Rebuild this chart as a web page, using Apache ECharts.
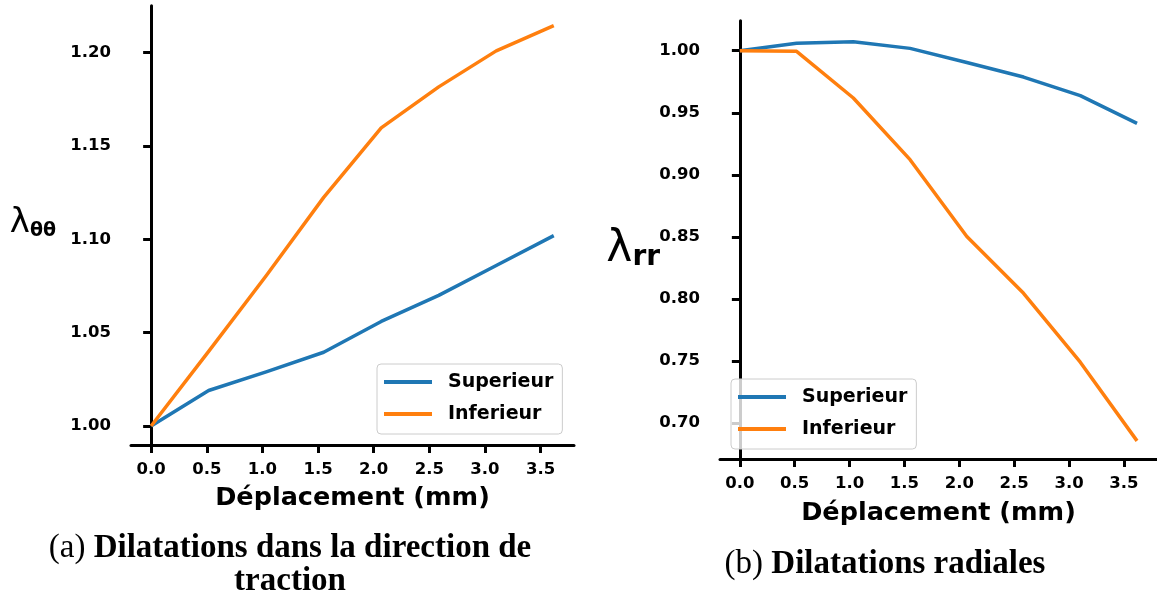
<!DOCTYPE html>
<html>
<head>
<meta charset="utf-8">
<script src="https://cdn.jsdelivr.net/npm/echarts@6/dist/echarts.min.js"></script>
<style>
  html, body { margin: 0; padding: 0; background: #ffffff; }
  #chart { width: 1157px; height: 596px; }
</style>
</head>
<body>
<div id="chart"></div>
<script>
// ---- data ----
const displacement = [0, 0.517, 1.034, 1.551, 2.068, 2.585, 3.102, 3.619];
const superieurTheta = [1.000, 1.019, 1.029, 1.0395, 1.056, 1.070, 1.086, 1.102];
const inferieurTheta = [1.000, 1.040, 1.0805, 1.1225, 1.1597, 1.1817, 1.201, 1.2145];
const superieurRadial = [1.000, 1.006, 1.0073, 1.0019, 0.9905, 0.9788, 0.9638, 0.9415];
const inferieurRadial = [1.000, 0.9995, 0.9619, 0.9122, 0.8503, 0.8045, 0.7490, 0.6856];
const xTickValues = [0.0, 0.5, 1.0, 1.5, 2.0, 2.5, 3.0, 3.5];
const yTickValuesTheta = [1.00, 1.05, 1.10, 1.15, 1.20];
const yTickValuesRadial = [0.70, 0.75, 0.80, 0.85, 0.90, 0.95, 1.00];
const seriesNames = ['Superieur', 'Inferieur'];
const captionA = ['(a) ', 'Dilatations dans la direction de', 'traction'];
const captionB = ['(b) ', 'Dilatations radiales'];
const xAxisTitle = 'Déplacement (mm)';

const BLUE = '#1f77b4', ORANGE = '#ff7f0e';
const SANS = '"DejaVu Sans", sans-serif';
const SERIF = '"Liberation Serif", "DejaVu Serif", serif';

const pairs = (xs, ys) => xs.map((x, i) => [x, ys[i]]);

const chart = echarts.init(document.getElementById('chart'), null, { renderer: 'canvas', width: 1157, height: 596 });

function xAxisDef(gridIndex, gap) {
  return {
    type: 'value', gridIndex,
    min: -0.181, max: 3.801,
    name: xAxisTitle, nameLocation: 'middle', nameGap: gap, nameMoveOverlap: false,
    nameTextStyle: { fontFamily: SANS, fontWeight: 'bold', fontSize: 25.5, color: '#000' },
    axisLine: { show: true, lineStyle: { color: '#000', width: 3 } },
    axisTick: { show: true, length: 8, lineStyle: { color: '#000', width: 3 }, customValues: xTickValues },
    axisLabel: { show: true, margin: 16, fontFamily: SANS, fontWeight: 'bold', fontSize: 16.5, color: '#000',
      customValues: xTickValues, formatter: v => v.toFixed(1) },
    splitLine: { show: false }
  };
}
function yAxisDef(gridIndex, min, max, ticks, name, rich, gap, pad) {
  return {
    type: 'value', gridIndex, min, max,
    name, nameLocation: 'middle', nameRotate: 0, nameGap: gap, nameMoveOverlap: false,
    nameTextStyle: { rich, padding: pad },
    axisLine: { show: true, lineStyle: { color: '#000', width: 3 } },
    axisTick: { show: true, length: 8, lineStyle: { color: '#000', width: 3 }, customValues: ticks },
    axisLabel: { show: true, margin: 20, fontFamily: SANS, fontWeight: 'bold', fontSize: 16.5, color: '#000',
      customValues: ticks, formatter: v => v.toFixed(2) },
    splitLine: { show: false }
  };
}
function lineSeries(name, xi, yi, data, color) {
  return {
    type: 'line', name, xAxisIndex: xi, yAxisIndex: yi,
    data: pairs(displacement, data),
    showSymbol: false, symbol: 'none', smooth: false,
    color, lineStyle: { color, width: 3.5, cap: 'butt', join: 'round' },
    animation: false
  };
}
function legendDef(left, top) {
  return {
    orient: 'vertical', left, top,
    data: seriesNames,
    icon: 'rect', itemWidth: 48, itemHeight: 4, itemGap: 10,
    padding: [7, 9, 9, 7],
    borderColor: '#cccccc', borderWidth: 1, borderRadius: 4,
    backgroundColor: 'rgba(255,255,255,0.8)',
    selectedMode: false,
    textStyle: { fontFamily: SANS, fontWeight: 'bold', fontSize: 19, color: '#000', lineHeight: 22, padding: [0, 0, 0, 11] }
  };
}

const option = {
  backgroundColor: '#ffffff',
  animation: false,
  grid: [
    { left: 131, top: 5.7, width: 443, height: 439.3, containLabel: false },
    { left: 720, top: 20.7, width: 441, height: 438.3, containLabel: false }
  ],
  xAxis: [xAxisDef(0, 40), xAxisDef(1, 41)],
  yAxis: [
    yAxisDef(0, 0.9898, 1.2252, yTickValuesTheta, '{l|λ}{s|θθ}', {
      l: { fontFamily: SANS, fontSize: 34, color: '#000', lineHeight: 34, verticalAlign: 'top' },
      s: { fontFamily: SANS, fontWeight: 'bold', fontSize: 19, color: '#000', lineHeight: 19, verticalAlign: 'bottom' }
    }, 75, [0, 0, 4, 0]),
    yAxisDef(1, 0.6710, 1.0242, yTickValuesRadial, '{l|λ}{s|rr}', {
      l: { fontFamily: SANS, fontSize: 44, color: '#000', lineHeight: 44, verticalAlign: 'top' },
      s: { fontFamily: SANS, fontWeight: 'bold', fontSize: 28, color: '#000', lineHeight: 26, verticalAlign: 'bottom' }
    }, 60, [20, 0, 0, 0])
  ],
  legend: [legendDef(377, 364), legendDef(731, 379)],
  series: [
    lineSeries(seriesNames[0], 0, 0, superieurTheta, BLUE),
    lineSeries(seriesNames[1], 0, 0, inferieurTheta, ORANGE),
    lineSeries(seriesNames[0], 1, 1, superieurRadial, BLUE),
    lineSeries(seriesNames[1], 1, 1, inferieurRadial, ORANGE)
  ],
  graphic: [
    {
      type: 'text', x: 290, y: 532,
      style: {
        text: '{n|' + captionA[0] + '}{b|' + captionA[1] + '}\n{b|' + captionA[2] + '}',
        textAlign: 'center',
        rich: {
          n: { fontFamily: SERIF, fontSize: 33, color: '#222', lineHeight: 33 },
          b: { fontFamily: SERIF, fontWeight: 'bold', fontSize: 33, color: '#222', lineHeight: 33 }
        }
      }
    },
    {
      type: 'text', x: 885, y: 548,
      style: {
        text: '{n|' + captionB[0] + '}{b|' + captionB[1] + '}',
        textAlign: 'center',
        rich: {
          n: { fontFamily: SERIF, fontSize: 33, color: '#222', lineHeight: 33 },
          b: { fontFamily: SERIF, fontWeight: 'bold', fontSize: 33, color: '#222', lineHeight: 33 }
        }
      }
    }
  ]
};
chart.setOption(option);
</script>
</body>
</html>
